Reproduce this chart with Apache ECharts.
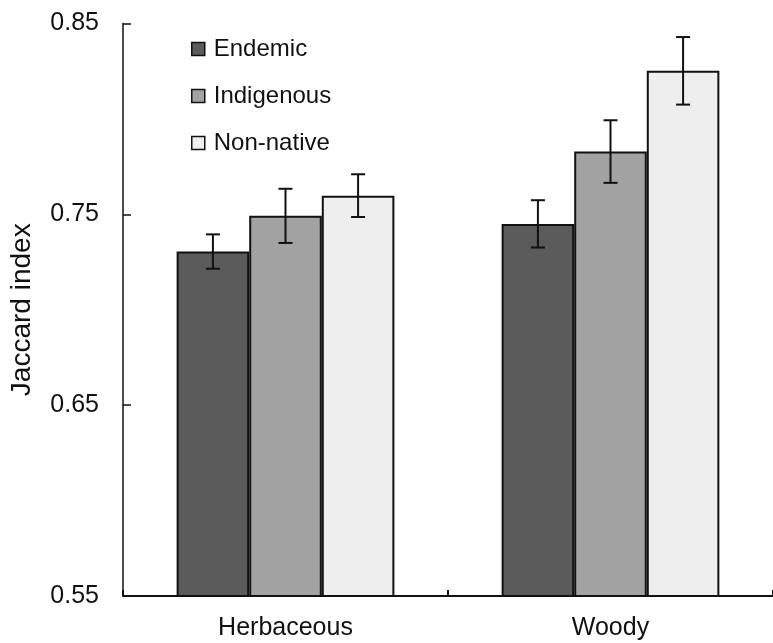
<!DOCTYPE html>
<html>
<head>
<meta charset="utf-8">
<script src="https://cdn.jsdelivr.net/npm/echarts@6/dist/echarts.min.js"></script>
<style>html,body{margin:0;padding:0;background:#fff}#c{width:773px;height:643px}</style>
</head>
<body>
<div id="c"></div>
<script>
var categories = ['Herbaceous', 'Woody'];
var seriesNames = ['Endemic', 'Indigenous', 'Non-native'];
var endemic = [0.7305, 0.7450];
var indigenous = [0.7492, 0.7829];
var nonNative = [0.7598, 0.8252];
var endemicErr = [0.0090, 0.0124];
var indigenousErr = [0.0142, 0.0164];
var nonNativeErr = [0.0112, 0.0177];
var yTicks = [0.55, 0.65, 0.75, 0.85];
var colors = ['#5b5b5b', '#a2a2a2', '#eeeeee'];

var values = [endemic, indigenous, nonNative];
var errs = [endemicErr, indigenousErr, nonNativeErr];
var CAT_GAP = 0.33;
var FONT = 'Liberation Sans, Arial, sans-serif';

var chart = echarts.init(document.getElementById('c'), null, {renderer: 'canvas'});
var series = [];
values.forEach(function (vals, i) {
  series.push({
    name: seriesNames[i],
    type: 'bar',
    data: vals,
    barGap: '0%',
    barCategoryGap: (CAT_GAP * 100) + '%',
    itemStyle: {color: colors[i], borderColor: '#111', borderWidth: 2},
    emphasis: {disabled: true}
  });
});
values.forEach(function (vals, i) {
  var d = vals.map(function (v, k) { return [k, v - errs[i][k], v + errs[i][k]]; });
  series.push({
    type: 'custom',
    name: 'err' + i,
    z: 10,
    data: d,
    encode: {x: 0, y: [1, 2]},
    renderItem: function (params, api) {
      var k = api.value(0);
      var lo = api.coord([k, api.value(1)]);
      var hi = api.coord([k, api.value(2)]);
      var catW = api.size([1, 0])[0];
      var bw = catW * (1 - CAT_GAP) / 3;
      var x = lo[0] + (i - 1) * bw;
      var cap = 7;
      var st = {stroke: '#111', lineWidth: 2};
      return {
        type: 'group',
        children: [
          {type: 'line', shape: {x1: x, y1: lo[1], x2: x, y2: hi[1]}, style: st},
          {type: 'line', shape: {x1: x - cap, y1: lo[1], x2: x + cap, y2: lo[1]}, style: st},
          {type: 'line', shape: {x1: x - cap, y1: hi[1], x2: x + cap, y2: hi[1]}, style: st}
        ]
      };
    }
  });
});

chart.setOption({
  animation: false,
  backgroundColor: '#fff',
  textStyle: {fontFamily: FONT},
  grid: {left: 123, top: 23.5, width: 657, height: 572.5, containLabel: false},
  legend: {
    data: seriesNames,
    orient: 'vertical',
    left: 191,
    top: 37,
    padding: 0,
    icon: 'rect',
    itemWidth: 13,
    itemHeight: 13,
    itemGap: 23,
    itemStyle: {borderColor: '#111', borderWidth: 1.5},
    textStyle: {fontSize: 24, color: '#111', lineHeight: 24, padding: [0, 0, 0, 4], fontFamily: FONT},
    selectedMode: false
  },
  xAxis: {
    type: 'category',
    data: categories,
    axisLine: {lineStyle: {color: '#111', width: 2}},
    axisTick: {show: true, inside: true, length: 6, lineStyle: {color: '#111', width: 2}},
    axisLabel: {fontSize: 25, color: '#111', margin: 20},
    splitLine: {show: false}
  },
  yAxis: {
    type: 'value',
    min: 0.55,
    max: 0.85,
    name: 'Jaccard index',
    nameLocation: 'middle',
    nameGap: 87,
    nameTextStyle: {fontSize: 28, color: '#111'},
    axisLine: {show: true, lineStyle: {color: '#111', width: 1.5}},
    axisTick: {show: true, inside: true, length: 8, customValues: yTicks, lineStyle: {color: '#111', width: 1.5}},
    axisLabel: {fontSize: 25, color: '#111', margin: 24, customValues: yTicks,
      formatter: function (v) { return v.toFixed(2); }},
    splitLine: {show: false}
  },
  series: series
});
</script>
</body>
</html>
